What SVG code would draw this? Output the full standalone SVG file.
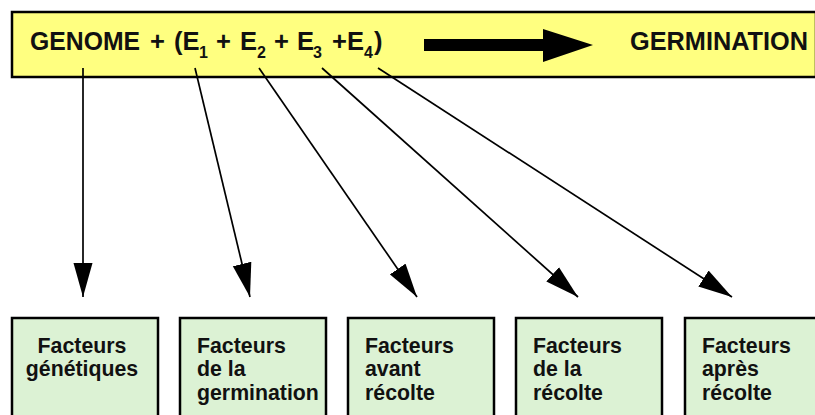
<svg xmlns="http://www.w3.org/2000/svg" width="815" height="415" viewBox="0 0 815 415">
<style>
.top{font-family:"Liberation Sans",Arial,sans-serif;font-weight:bold;font-size:25.5px;fill:#111}
.sub{font-size:16px}
.box{fill:#dcf2d4;stroke:#000;stroke-width:2.5}
.lbl{font-family:"Liberation Sans",Arial,sans-serif;font-weight:bold;font-size:21.3px;fill:#111}
.conn{stroke:#000;stroke-width:1.7;fill:none;marker-end:url(#ah)}
</style>
<defs>
<marker id="ah" markerUnits="userSpaceOnUse" markerWidth="36" markerHeight="20" refX="34" refY="10" orient="auto" viewBox="0 0 36 20">
<path d="M0,0.5 L34,10 L0,19.5 Z" fill="#000"/>
</marker>
</defs>
<g id="header">
<rect x="12" y="12" width="804" height="65" fill="#ffff80" stroke="#000" stroke-width="2.5"/>
<text class="top" y="50"><tspan x="30" textLength="110" lengthAdjust="spacingAndGlyphs">GENOME</tspan><tspan x="150">+</tspan><tspan x="174">(E</tspan><tspan class="sub" x="199" dy="8">1</tspan><tspan x="216" dy="-8">+</tspan><tspan x="240">E</tspan><tspan class="sub" x="257" dy="8">2</tspan><tspan x="274" dy="-8">+</tspan><tspan x="297">E</tspan><tspan class="sub" x="313" dy="8">3</tspan><tspan x="332" dy="-8">+E</tspan><tspan class="sub" x="364" dy="8">4</tspan><tspan x="374" dy="-8">)</tspan></text>
<path d="M424,39 H543 V29 L593,45 L543,62 V51 H424 Z" fill="#000"/>
<text class="top" x="630" y="50" textLength="178" lengthAdjust="spacingAndGlyphs">GERMINATION</text>
</g>
<g id="connectors">
<line class="conn" x1="83" y1="68" x2="83" y2="297"/>
<line class="conn" x1="195" y1="68" x2="250" y2="297"/>
<line class="conn" x1="259" y1="68" x2="417" y2="297"/>
<line class="conn" x1="322" y1="68" x2="578" y2="297"/>
<line class="conn" x1="378" y1="68" x2="732" y2="297"/>
</g>
<g id="n1">
<rect class="box" x="12" y="318" width="146" height="110"/>
<text class="lbl" text-anchor="middle"><tspan x="82" y="353">Facteurs</tspan><tspan x="82" y="376">génétiques</tspan></text>
</g>
<g id="n2">
<rect class="box" x="180" y="318" width="146" height="110"/>
<text class="lbl"><tspan x="197" y="353">Facteurs</tspan><tspan x="197" y="376">de la</tspan><tspan x="197" y="400">germination</tspan></text>
</g>
<g id="n3">
<rect class="box" x="348" y="318" width="146" height="110"/>
<text class="lbl"><tspan x="365" y="353">Facteurs</tspan><tspan x="365" y="376">avant</tspan><tspan x="365" y="400">récolte</tspan></text>
</g>
<g id="n4">
<rect class="box" x="516" y="318" width="146" height="110"/>
<text class="lbl"><tspan x="533" y="353">Facteurs</tspan><tspan x="533" y="376">de la</tspan><tspan x="533" y="400">récolte</tspan></text>
</g>
<g id="n5">
<rect class="box" x="685" y="318" width="146" height="110"/>
<text class="lbl"><tspan x="702" y="353">Facteurs</tspan><tspan x="702" y="376">après</tspan><tspan x="702" y="400">récolte</tspan></text>
</g>
</svg>
